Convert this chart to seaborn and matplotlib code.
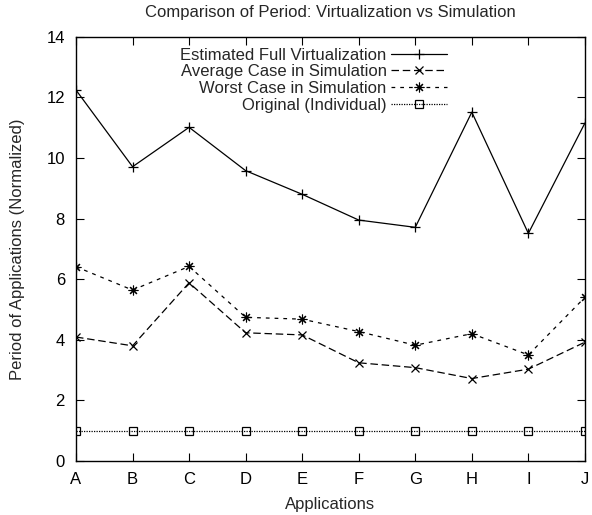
import matplotlib
matplotlib.use("Agg")
import matplotlib.pyplot as plt
import seaborn as sns
import pandas as pd

apps = ["A", "B", "C", "D", "E", "F", "G", "H", "I", "J"]
full_virt = [12.24, 9.71, 11.01, 9.58, 8.80, 7.95, 7.71, 11.51, 7.51, 11.15]
avg_sim = [4.09, 3.80, 5.88, 4.23, 4.16, 3.24, 3.08, 2.72, 3.03, 3.92]
worst_sim = [6.41, 5.64, 6.42, 4.74, 4.68, 4.27, 3.82, 4.20, 3.50, 5.40]
original = [1.0, 1.0, 1.0, 1.0, 1.0, 1.0, 1.0, 1.0, 1.0, 1.0]

series_names = ["Estimated Full Virtualization", "Average Case in Simulation",
                "Worst Case in Simulation", "Original (Individual)"]
series_vals = [full_virt, avg_sim, worst_sim, original]

sns.set_theme(style="ticks")
plt.rcParams["font.family"] = ["Liberation Sans", "DejaVu Sans"]

fig = plt.figure(figsize=(5.92, 5.15), dpi=100)
ax = fig.add_axes([0.1284, 0.1049, 0.988 - 0.1284, 0.9287 - 0.1049])

styles = [
    dict(marker="+", linestyle="-", markersize=7, markeredgewidth=0.9),
    dict(marker="x", linestyle=(0, (6, 3)), markersize=6, markeredgewidth=0.9),
    dict(marker=(8, 2, 0), linestyle=(0, (3, 4)), markersize=7, markeredgewidth=0.8),
    dict(marker="s", linestyle=(0, (1, 1)), markersize=6, markerfacecolor="none",
         markeredgewidth=0.9),
]

xpos = list(range(len(apps)))
for name, vals, st in zip(series_names, series_vals, styles):
    df = pd.DataFrame({"x": xpos, "y": vals})
    sns.lineplot(data=df, x="x", y="y", ax=ax, color="black", linewidth=0.9,
                 markeredgecolor="black", label=name, **st)

ax.set_xlim(0, 9)
ax.set_ylim(0, 14)
ax.set_xticks(xpos)
ax.set_xticklabels(apps)
ax.set_yticks(range(0, 15, 2))
ax.tick_params(direction="in", length=6, width=0.8, top=True, right=True,
               labelsize=12, colors="black")
ax.tick_params(axis="y", pad=8)
ax.tick_params(axis="x", pad=8)
for s in ax.spines.values():
    s.set_linewidth(1.0)
    s.set_color("black")

ax.set_xlabel("Applications", fontsize=12, labelpad=7)
ax.set_ylabel("Period of Applications (Normalized)", fontsize=12, labelpad=15)
ax.set_title("Comparison of Period: Virtualization vs Simulation", fontsize=12, pad=14)

leg = ax.legend(loc="upper right", bbox_to_anchor=(0.743, 0.99), frameon=False,
                markerfirst=False, fontsize=12, handlelength=3.4, handletextpad=0.25,
                labelspacing=0.1, borderaxespad=0)

fig.savefig("out.png", dpi=100)
